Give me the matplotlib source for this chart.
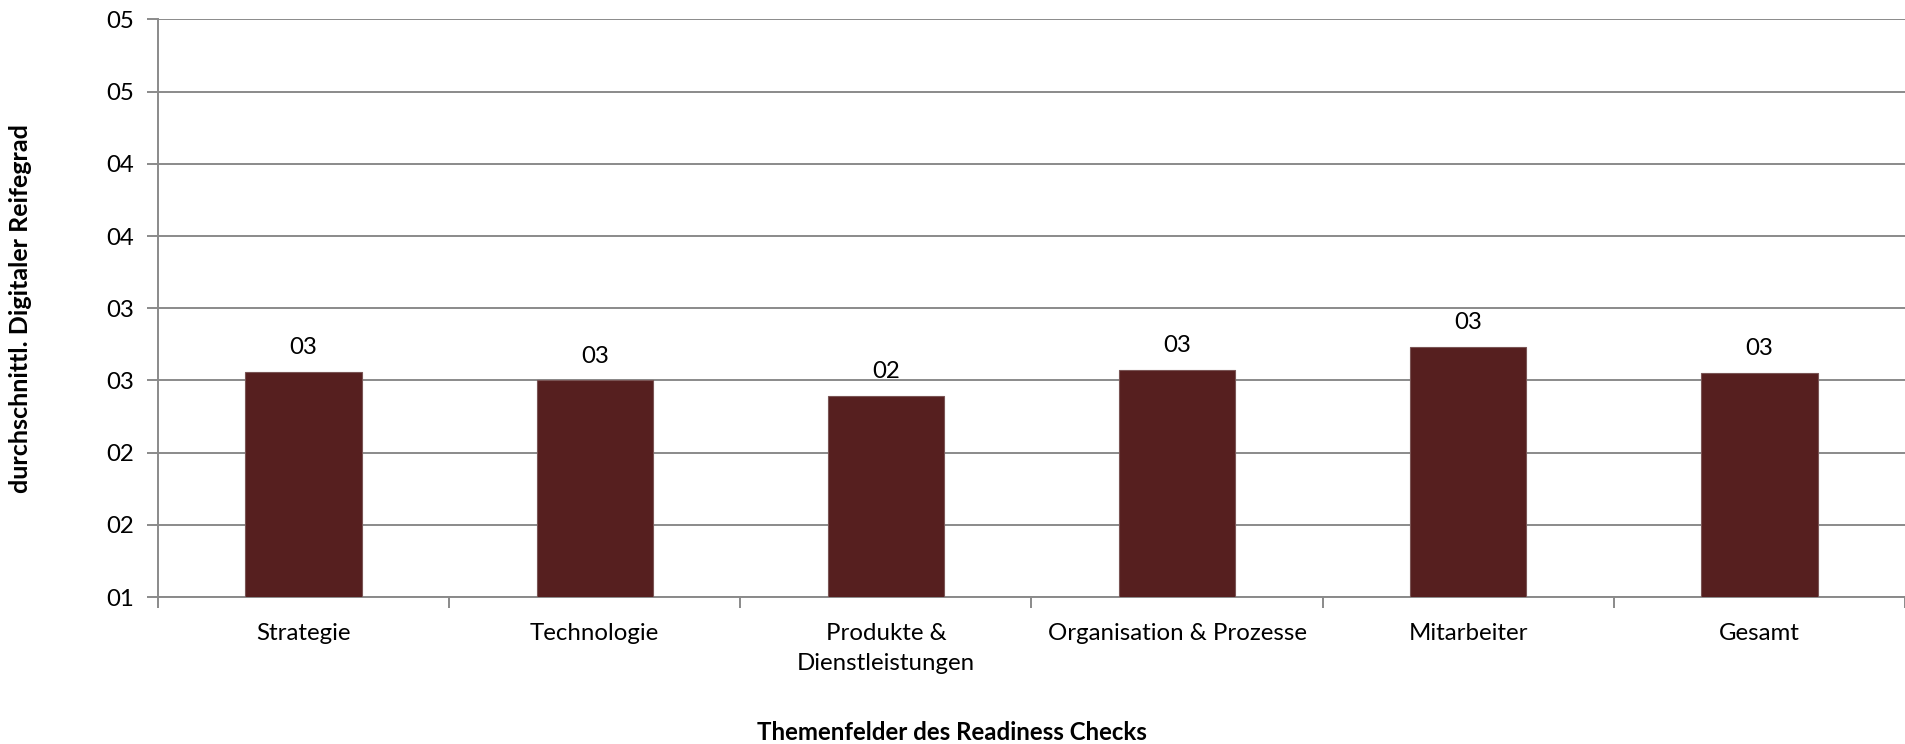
import numpy as np
from matplotlib import pyplot as plt
from matplotlib.ticker import FuncFormatter

# Themenfelder und durchschnittlicher Reifegrad
categories = ["Strategie", "Technologie", "Produkte &\nDienstleistungen",
              "Organisation & Prozesse", "Mitarbeiter", "Gesamt"]
values = [2.56, 2.50, 2.39, 2.57, 2.73, 2.55]
y_ticks = [1.0, 1.5, 2.0, 2.5, 3.0, 3.5, 4.0, 4.5, 5.0]

plt.rcParams['font.family'] = ['Lato', 'DejaVu Sans']

def excel_fmt(v, pos=None):
    # Excel format "00" rounds half up
    return "%02d" % int(np.floor(v + 0.5 + 1e-9))

W, H = 1906, 744
fs = 17.3
fig = plt.figure(figsize=(W / 100, H / 100), dpi=100)
ax = fig.add_axes([158 / W, 1 - 597 / H, (1905 - 158) / W, (597 - 19.5) / H])

grid_col = '#8a8a8a'
x = np.arange(len(categories))
bars = ax.bar(x, values, width=0.4, color='#561f1f', edgecolor='#7a5555',
              linewidth=0.8, zorder=3)

for xi, v in zip(x, values):
    ax.annotate(excel_fmt(v), (xi, v), xytext=(0, 10), textcoords='offset points',
                ha='center', va='bottom', fontsize=fs, color='black')

ax.set_xlim(-0.5, len(categories) - 0.5)
ax.set_ylim(1, 5)
ax.set_yticks(y_ticks)
ax.yaxis.set_major_formatter(FuncFormatter(excel_fmt))
ax.yaxis.grid(True, color=grid_col, linewidth=1.4, zorder=0)

ax.set_xticks(x)
ax.set_xticklabels(categories, fontsize=fs, linespacing=1.5)
ax.set_xticks(np.arange(-0.5, len(categories)), minor=True)
ax.tick_params(axis='x', which='major', length=0, pad=19)
ax.tick_params(axis='x', which='minor', length=8, width=1.4, color=grid_col, direction='out')
ax.tick_params(axis='y', length=8, width=1.4, color=grid_col, labelsize=fs, pad=9)

for s in ['top', 'right']:
    ax.spines[s].set_visible(False)
for s in ['left', 'bottom']:
    ax.spines[s].set_color(grid_col)
    ax.spines[s].set_linewidth(1.4)

fig.text(21 / W, 1 - 309 / H, "durchschnittl. Digitaler Reifegrad", rotation=90,
         ha='center', va='center', fontsize=18, fontweight='bold')
fig.text(952 / W, 1 - 732 / H, "Themenfelder des Readiness Checks",
         ha='center', va='center', fontsize=fs, fontweight='bold')

fig.savefig("out.png", dpi=100)
